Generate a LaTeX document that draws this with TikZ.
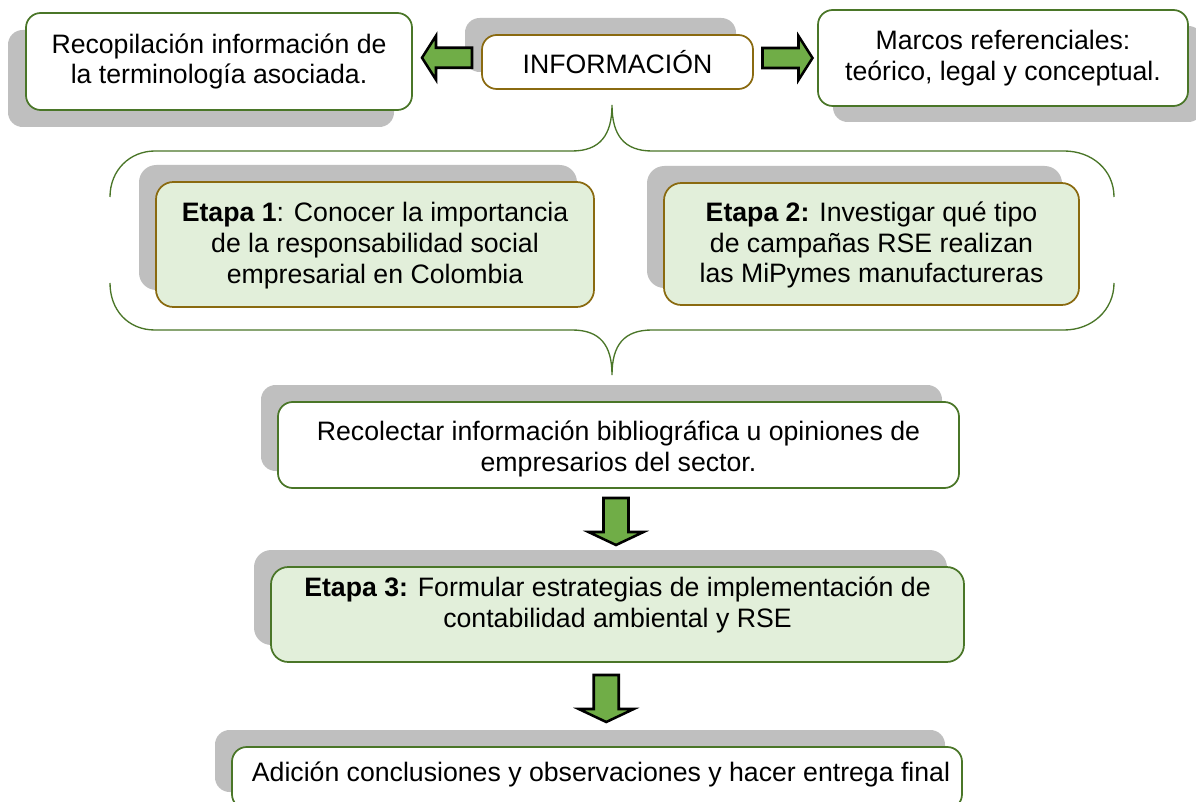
\documentclass[tikz,border=0pt]{standalone}
\usepackage{fontspec}
\setmainfont{Liberation Sans}
\usetikzlibrary{shadows,calc}
\definecolor{boxgreen}{HTML}{4A7628}
\definecolor{boxbrown}{HTML}{8A6A10}
\definecolor{fillgreen}{HTML}{E2EFDA}
\definecolor{shadowgray}{HTML}{BFBFBF}
\definecolor{arrowgreen}{HTML}{70AD47}
\newcommand{\movetext}[2]{\raisebox{#1}[\height][\depth]{\begin{tabular}{@{}c@{}}#2\end{tabular}}}
\tikzset{
  box/.style={draw, rounded corners=11pt, line width=1.3pt, fill=white, align=center,
    inner sep=0pt, font=\fontsize{20}{23}\selectfont},
  greenbox/.style={box, draw=boxgreen},
  brownbox/.style={box, draw=boxbrown},
  etapabox/.style={box, draw=boxbrown, fill=fillgreen, rounded corners=13pt},
  etapagreen/.style={box, draw=boxgreen, fill=fillgreen, rounded corners=13pt},
  shUL/.style={general shadow={fill=shadowgray, shadow xshift=-12.75pt, shadow yshift=12.75pt}},
  shDL/.style={general shadow={fill=shadowgray, shadow xshift=-13.5pt, shadow yshift=-12.75pt}},
  shDR/.style={general shadow={fill=shadowgray, shadow xshift=11.25pt, shadow yshift=-12pt}},
  blockarrow/.style={draw=black, line width=1.9pt, fill=arrowgreen, line join=miter},
  bracket/.style={draw=boxgreen, line width=1pt},
  pics/harrow/.style={code={\path[blockarrow] (-25,-10) -- (11,-10) -- (11,-22) -- (25,0) -- (11,22) -- (11,10) -- (-25,10) -- cycle;}},
  pics/varrow/.style={code={\path[blockarrow] (-12.5,-23.5) -- (12.5,-23.5) -- (12.5,10.5) -- (27.5,10.5) -- (0,23.5) -- (-27.5,10.5) -- (-12.5,10.5) -- cycle;}},
}
\begin{document}
\begin{tikzpicture}[x=0.75pt,y=-0.75pt]
\useasboundingbox (0,0) rectangle (1196,802);
\clip (0,0) rectangle (1196,802);
\fill[white] (0,0) rectangle (1196,802);

% top row
\node[greenbox, shDL, minimum width=289.5pt, minimum height=72.75pt] (reco) at (219,61.5)
  {Recopilación información de\\la terminología asociada.};
\node[brownbox, shUL, minimum width=203.25pt, minimum height=40.5pt] (info) at (617.5,62)
  {INFORMACIÓN};
\node[greenbox, shDR, minimum width=277.5pt, minimum height=72pt] (marcos) at (1003,58)
  {Marcos referenciales:\\teórico, legal y conceptual.};

\pic[rotate=180] at ($(reco.east)!0.5!(info.west)+(0,-4)$) {harrow};
\pic at ($(info.east)!0.5!(marcos.west)+(2,-2)$) {harrow};

% brace
\path[bracket] (110,197) .. controls (110,170) and (130,151) .. (155,151) -- (572,151)
  .. controls (600,151) and (612,135) .. (612,105)
  .. controls (612,135) and (624,151) .. (652,151) -- (1064,151)
  .. controls (1092,151) and (1114,170) .. (1114,197);
\path[bracket] (110,283) .. controls (110,310) and (128,330) .. (155,330) -- (572,330)
  .. controls (600,330) and (612,345) .. (612,375)
  .. controls (612,345) and (624,330) .. (652,330) -- (1064,330)
  .. controls (1092,330) and (1114,310) .. (1114,283);

% etapas
\node[etapabox, shUL, minimum width=328.5pt, minimum height=93.75pt] (et1) at (375,244.5)
  {\movetext{-1.5pt}{\textbf{Etapa 1}: Conocer la importancia\\de la responsabilidad social\\empresarial en Colombia}};
\node[etapabox, shUL, minimum width=311.25pt, minimum height=91.5pt] (et2) at (871.5,244)
  {\movetext{-1.5pt}{\textbf{Etapa 2:} Investigar qué tipo\\de campañas RSE realizan\\las MiPymes manufactureras}};

\node[greenbox, shUL, minimum width=510.75pt, minimum height=64.5pt] (recol) at (618.5,445)
  {\movetext{-3.75pt}{Recolectar información bibliográfica u opiniones de\\empresarios del sector.}};
\node[etapagreen, shUL, minimum width=519.75pt, minimum height=71.25pt] (et3) at (617.5,614.5)
  {\movetext{6.5pt}{\textbf{Etapa 3:} Formular estrategias de implementación de\\contabilidad ambiental y RSE}};
\node[greenbox, shUL, minimum width=547.5pt, minimum height=46.5pt] (final) at (597,778)
  {\movetext{2pt}{\hspace*{6pt}Adición conclusiones y observaciones y hacer entrega final}};

\pic at ($(recol.south)!0.5!(et3.north)+(-2,-6)$) {varrow};
\pic at ($(et3.south)!0.5!(final.north)+(-1,-6)$) {varrow};
\end{tikzpicture}
\end{document}
